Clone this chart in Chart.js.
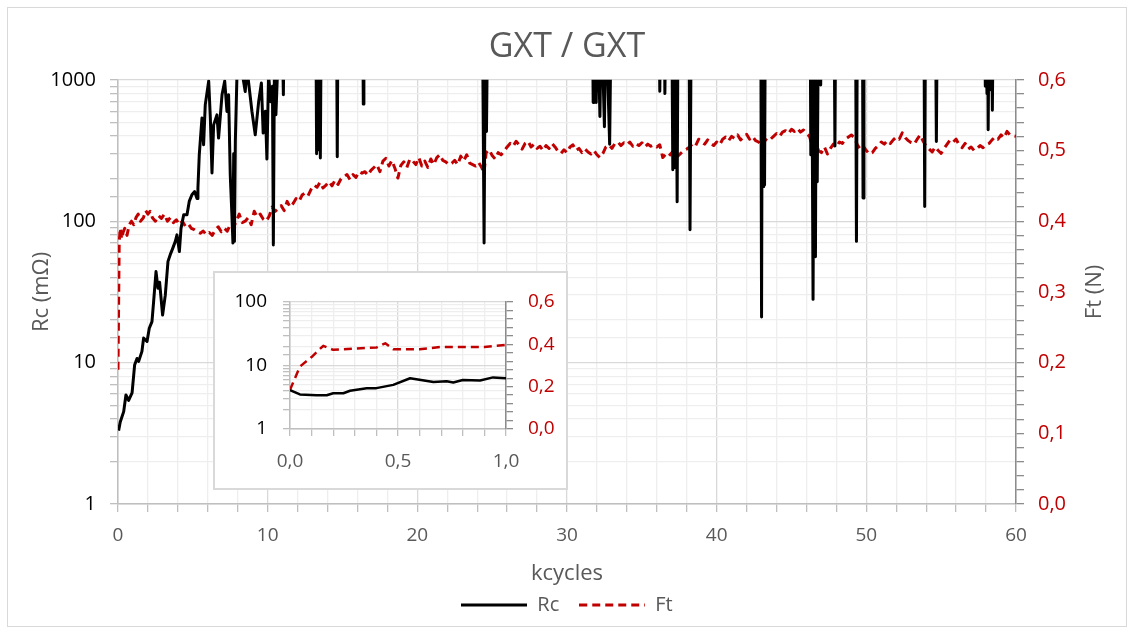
<!DOCTYPE html>
<html>
<head>
<meta charset="utf-8">
<script src="https://cdn.jsdelivr.net/npm/chart.js@4.4.1/dist/chart.umd.min.js"></script>
<style>
  body { margin: 0; background: #fff; }
  #wrap { position: relative; width: 1134px; height: 633px; }
  #frame { position: absolute; left: 7px; top: 7px; width: 1118px; height: 618px; border: 1px solid #d9d9d9; }
  #main { position: absolute; left: 0; top: 0; }
  #insetBox { position: absolute; left: 213px; top: 271px; width: 351px; height: 215px; border: 2px solid #d9d9d9; background: #fff; }
</style>
</head>
<body>
<div id="wrap">
  <div id="frame"></div>
  <canvas id="main" width="1134" height="633"></canvas>
  <div id="insetBox"><canvas id="inset" width="351" height="215"></canvas></div>
</div>
<script>
// Rc (mOhm) vs kcycles - values above 1000 run off the top of the plot
const rcK = [0.04,0.15,0.38,0.53,0.71,0.94,1.11,1.27,1.38,1.6,1.71,1.94,2.09,2.27,2.38,2.54,2.67,2.78,2.98,3.16,3.34,3.49,3.65,3.83,3.94,4.1,4.21,4.39,4.61,4.76,4.94,5.12,5.28,5.34,5.43,5.61,5.72,5.83,6.06,6.17,6.28,6.39,6.61,6.72,6.95,7.13,7.28,7.39,7.5,7.61,7.68,7.73,7.78,7.84,7.95,8.2,8.5,8.62,8.95,9.17,9.4,9.58,9.7,9.85,9.95,10.06,10.2,10.32,10.38,10.45,10.55,10.7,11.0,11.05,11.1,13.22,13.27,13.32,13.4,13.46,13.52,13.58,14.6,14.65,14.7,16.35,16.39,16.43,24.35,24.46,24.55,24.62,24.7,31.7,31.75,31.8,31.95,32.05,32.2,32.3,32.5,32.6,32.85,32.95,36.15,36.2,36.25,36.5,36.54,36.6,37.0,37.07,37.14,37.2,37.28,37.36,37.42,38.15,38.22,38.3,42.95,43.0,43.05,43.1,43.15,43.2,43.25,46.25,46.29,46.35,46.44,46.52,46.6,46.66,46.72,46.8,46.95,47.0,47.85,47.9,47.95,49.28,49.34,49.4,49.74,49.78,49.84,53.85,53.9,53.95,54.62,54.68,54.74,57.9,57.95,58.0,58.06,58.1,58.14,58.2,58.3,58.36,58.42,58.48,60];
const rcVal = [3.3,3.8,4.5,5.9,5.4,6.1,9.6,10.7,10.2,12,14.9,14.1,17.5,19.5,27,44,33.6,37,21.7,30,52,58,64,72,80,61,89,111,111,138,154,162,145,171,295,536,347,665,980,536,219,480,565,387,783,980,597,783,213,111,70,300,72,366,1100,1300,826,1200,597,408,703,950,420,600,275,1100,700,900,68,1200,566,1500,1500,785,3000,3000,300,3000,320,3000,280,3000,3000,286,3000,3000,673,3000,3000,70,3000,431,3000,3000,690,3000,690,3000,550,3000,465,3000,350,3000,3000,830,3000,3000,800,3000,3000,231,3000,240,3000,137,3000,3000,87,3000,3000,21,3000,176,3000,180,3000,3000,295,3000,28,3000,56,3000,190,3000,920,3000,3000,340,3000,3000,72,3000,3000,146,3000,3000,127,3000,3000,366,3000,3000,900,3000,800,3000,444,3000,850,3000,610,3000,3000];

// Ft (N) vs kcycles
const ftK = [0,0.08,0.15,0.25,0.35,0.45,0.6,0.75,0.9,1.05,1.2,1.35,1.5,1.7,1.85,2.0,2.15,2.3,2.5,2.7,2.9,3.1,3.3,3.5,3.7,3.9,4.1,4.3,4.5,4.7,4.9,5.1,5.3,5.5,5.7,5.9,6.1,6.3,6.5,6.7,6.9,7.1,7.3,7.5,7.7,7.9,8.1,8.3,8.5,8.7,8.9,9.1,9.3,9.5,9.7,9.9,10.1,10.3,10.5,10.7,10.9,11.1,11.3,11.5,11.7,11.9,12.1,12.3,12.5,12.7,12.9,13.1,13.3,13.5,13.7,13.9,14.1,14.3,14.5,14.7,14.9,15.1,15.3,15.5,15.7,15.9,16.1,16.3,16.5,16.7,16.9,17.1,17.3,17.5,17.7,17.9,18.1,18.3,18.5,18.7,18.9,19.1,19.3,19.5,19.7,19.9,20.1,20.3,20.5,20.7,20.9,21.1,21.3,21.5,21.7,21.9,22.1,22.3,22.5,22.7,22.9,23.1,23.3,23.5,23.7,23.9,24.1,24.3,24.45,24.6,24.8,25.0,25.2,25.4,25.6,25.8,26.0,26.2,26.4,26.6,26.8,27.0,27.2,27.4,27.6,27.8,28.0,28.2,28.4,28.6,28.8,29.0,29.2,29.4,29.6,29.8,30.0,30.2,30.4,30.6,30.8,31.0,31.2,31.4,31.6,31.8,32.0,32.2,32.4,32.6,32.8,33.0,33.2,33.4,33.6,33.8,34.0,34.2,34.4,34.6,34.8,35.0,35.2,35.4,35.6,35.8,36.0,36.2,36.4,36.6,36.8,37.0,37.2,37.4,37.6,37.8,38.0,38.2,38.4,38.6,38.8,39.0,39.2,39.4,39.6,39.8,40.0,40.2,40.4,40.6,40.8,41.0,41.2,41.4,41.6,41.8,42.0,42.2,42.4,42.6,42.8,43.0,43.2,43.4,43.6,43.8,44.0,44.2,44.4,44.6,44.8,45.0,45.2,45.4,45.6,45.8,46.0,46.2,46.4,46.6,46.8,47.0,47.2,47.4,47.6,47.8,48.0,48.2,48.4,48.6,48.8,49.0,49.2,49.4,49.6,49.8,50.0,50.2,50.4,50.6,50.8,51.0,51.2,51.4,51.6,51.8,52.0,52.2,52.4,52.6,52.8,53.0,53.2,53.4,53.6,53.8,54.0,54.2,54.4,54.6,54.8,55.0,55.2,55.4,55.6,55.8,56.0,56.2,56.4,56.6,56.8,57.0,57.2,57.4,57.6,57.8,58.0,58.2,58.4,58.6,58.8,59.0,59.2,59.4,59.6,59.8,60.0];
const ftVal = [0.19,0.37,0.39,0.375,0.385,0.39,0.38,0.395,0.40,0.395,0.405,0.41,0.40,0.405,0.415,0.41,0.414,0.405,0.40,0.408,0.404,0.41,0.40,0.405,0.398,0.402,0.395,0.40,0.393,0.396,0.39,0.388,0.385,0.383,0.386,0.381,0.384,0.38,0.388,0.392,0.385,0.39,0.386,0.395,0.39,0.40,0.41,0.398,0.40,0.405,0.395,0.414,0.406,0.41,0.403,0.40,0.407,0.42,0.414,0.418,0.422,0.415,0.428,0.42,0.425,0.432,0.428,0.437,0.44,0.436,0.445,0.451,0.448,0.455,0.447,0.451,0.456,0.45,0.458,0.452,0.46,0.463,0.466,0.459,0.466,0.462,0.47,0.468,0.47,0.465,0.472,0.476,0.48,0.47,0.485,0.489,0.478,0.486,0.475,0.461,0.479,0.484,0.476,0.488,0.485,0.48,0.49,0.478,0.485,0.476,0.488,0.48,0.49,0.494,0.486,0.484,0.48,0.482,0.486,0.48,0.492,0.485,0.494,0.482,0.48,0.478,0.483,0.476,0.468,0.497,0.501,0.493,0.488,0.497,0.494,0.499,0.505,0.51,0.506,0.513,0.508,0.502,0.51,0.513,0.505,0.509,0.503,0.506,0.5,0.507,0.503,0.51,0.505,0.499,0.496,0.501,0.497,0.505,0.508,0.5,0.503,0.497,0.502,0.498,0.495,0.5,0.494,0.49,0.496,0.505,0.508,0.503,0.51,0.512,0.507,0.511,0.508,0.512,0.506,0.51,0.507,0.511,0.505,0.509,0.506,0.508,0.505,0.508,0.49,0.495,0.492,0.497,0.488,0.492,0.496,0.5,0.502,0.505,0.51,0.507,0.516,0.512,0.509,0.515,0.51,0.507,0.512,0.508,0.516,0.519,0.514,0.52,0.517,0.522,0.515,0.519,0.523,0.516,0.52,0.514,0.512,0.506,0.513,0.518,0.516,0.52,0.524,0.52,0.526,0.528,0.524,0.53,0.527,0.531,0.526,0.529,0.524,0.52,0.506,0.513,0.5,0.497,0.505,0.495,0.503,0.509,0.505,0.512,0.51,0.516,0.519,0.522,0.518,0.508,0.502,0.506,0.5,0.495,0.497,0.503,0.507,0.512,0.509,0.514,0.51,0.515,0.519,0.516,0.525,0.518,0.514,0.511,0.509,0.516,0.522,0.513,0.506,0.502,0.498,0.505,0.5,0.496,0.503,0.509,0.515,0.512,0.516,0.508,0.504,0.51,0.502,0.505,0.5,0.503,0.507,0.504,0.508,0.51,0.515,0.519,0.516,0.522,0.518,0.527,0.522,0.521,0.52];

// inset: first 1 kcycle
const insetRcK = [0,0.046,0.123,0.17,0.2,0.247,0.278,0.355,0.4,0.478,0.556,0.664,0.725,0.756,0.8,0.88,0.94,1.0];
const insetRcVal = [4.1,3.5,3.4,3.4,3.66,3.66,4.0,4.4,4.4,4.95,6.3,5.5,5.65,5.4,5.9,5.8,6.5,6.3];
const insetFtK = [0,0.046,0.1,0.154,0.2,0.3,0.4,0.441,0.478,0.6,0.694,0.9,1.0];
const insetFtVal = [0.185,0.295,0.34,0.393,0.374,0.38,0.385,0.405,0.377,0.377,0.387,0.387,0.398];

const FONT = 'Open Sans';
const GREY = '#595959';
const RED = '#C00000';

const pts = (xs, ys) => xs.map((x, i) => ({ x, y: ys[i] }));
const isDecade = v => { const l = Math.log10(v); return Math.abs(l - Math.round(l)) < 1e-9; };
const onStep = (v, step) => Math.abs(v / step - Math.round(v / step)) < 1e-6;
const comma = v => v.toFixed(1).replace('.', ',');

// little line sample used as the legend symbol, so the dash shows
const swatch = (color, dash) => {
  const c = document.createElement('canvas');
  c.width = 66; c.height = 6;
  const g = c.getContext('2d');
  g.strokeStyle = color; g.lineWidth = 3; g.setLineDash(dash);
  g.beginPath(); g.moveTo(0, 3); g.lineTo(66, 3); g.stroke();
  return c;
};

const lineSet = (label, data, axis, color, dash, width) => ({
  label, data, yAxisID: axis,
  borderColor: color, backgroundColor: color,
  borderWidth: width, borderDash: dash,
  borderJoinStyle: 'round',
  pointRadius: 0, pointStyle: swatch(color, dash), tension: 0
});

// right axis title reads bottom-to-top like the left one
const rightTitle = {
  id: 'rightTitle',
  afterDraw(chart) {
    const { ctx, chartArea } = chart;
    ctx.save();
    ctx.translate(1095, (chartArea.top + chartArea.bottom) / 2);
    ctx.rotate(-Math.PI / 2);
    ctx.font = '22px "Open Sans"';
    ctx.fillStyle = GREY;
    ctx.textAlign = 'center';
    ctx.textBaseline = 'middle';
    ctx.fillText('Ft (N)', 0, 0);
    ctx.restore();
  }
};

new Chart(document.getElementById('main'), {
  type: 'line',
  data: {
    datasets: [
      lineSet('Rc', pts(rcK, rcVal), 'y', '#000000', [], 3),
      lineSet('Ft', pts(ftK, ftVal), 'y2', RED, [8, 5], 3)
    ]
  },
  options: {
    responsive: false,
    animation: false,
    layout: { padding: { left: 12, right: 12, top: 0, bottom: 8 } },
    plugins: {
      title: {
        display: true, text: 'GXT / GXT', color: GREY,
        font: { family: FONT, size: 34, weight: 'normal' },
        padding: { top: 27, bottom: 12 }
      },
      legend: {
        position: 'bottom',
        labels: { usePointStyle: true, pointStyleWidth: 66, color: GREY, font: { family: FONT, size: 20 }, padding: 20 }
      },
      tooltip: { enabled: false }
    },
    scales: {
      x: {
        type: 'linear', min: 0, max: 60,
        ticks: { stepSize: 2, autoSkip: false, maxRotation: 0, padding: 12, color: GREY,
          font: { family: FONT, size: 19 }, callback: v => (v % 10 === 0 ? String(v) : '') },
        grid: { color: c => (c.tick && c.tick.value % 10 === 0 ? '#d9d9d9' : '#eeeeee'), lineWidth: 1.3, tickLength: 8, tickColor: '#bfbfbf' },
        border: { color: '#bfbfbf', width: 1.5 },
        title: { display: true, text: 'kcycles', color: GREY, font: { family: FONT, size: 22 }, padding: { top: 0, bottom: -12 } },
        afterFit: s => { s.height = 71; }
      },
      y: {
        type: 'logarithmic', position: 'left', min: 1, max: 1000,
        ticks: { autoSkip: false, padding: 14, color: '#000', font: { family: FONT, size: 20 },
          callback: v => (isDecade(v) ? String(v) : '') },
        grid: { color: c => (c.tick && isDecade(c.tick.value) ? '#d9d9d9' : '#eeeeee'), lineWidth: 1.3, tickLength: 8, tickColor: '#bfbfbf' },
        border: { color: '#bfbfbf', width: 1.5 },
        title: { display: true, text: 'Rc (mΩ)', color: GREY, font: { family: FONT, size: 22 }, padding: { top: 17, bottom: 0 } },
        afterFit: s => { s.width = 106; }
      },
      y2: {
        type: 'linear', position: 'right', min: 0, max: 0.6,
        ticks: { stepSize: 0.02, autoSkip: false, padding: 14, color: RED, font: { family: FONT, size: 20 },
          callback: v => (onStep(v, 0.1) ? comma(v) : '') },
        grid: { drawOnChartArea: false, tickLength: 8, color: '#8c8c8c', lineWidth: 1.3 },
        border: { color: '#8c8c8c', width: 1.5 },
        afterFit: s => { s.width = 106; }
      }
    }
  },
  plugins: [rightTitle]
});

new Chart(document.getElementById('inset'), {
  type: 'line',
  data: {
    datasets: [
      lineSet('Rc', pts(insetRcK, insetRcVal), 'y', '#000000', [], 2.5),
      lineSet('Ft', pts(insetFtK, insetFtVal), 'y2', RED, [8, 5], 2.5)
    ]
  },
  options: {
    responsive: false,
    animation: false,
    layout: { padding: { left: 0, right: 0, top: 29, bottom: 0 } },
    plugins: { legend: { display: false }, tooltip: { enabled: false } },
    scales: {
      x: {
        type: 'linear', min: 0, max: 1,
        ticks: { stepSize: 0.1, autoSkip: false, maxRotation: 0, padding: 14, color: GREY,
          font: { family: FONT, size: 19 }, callback: v => (onStep(v, 0.5) ? comma(v) : '') },
        grid: { color: c => (c.tick && onStep(c.tick.value, 0.5) ? '#d9d9d9' : '#eeeeee'), lineWidth: 1.3, tickLength: 7, tickColor: '#bfbfbf' },
        border: { color: '#bfbfbf', width: 1.5 },
        afterFit: s => { s.height = 59; }
      },
      y: {
        type: 'logarithmic', position: 'left', min: 1, max: 100,
        ticks: { autoSkip: false, padding: 16, color: '#000', font: { family: FONT, size: 19 },
          callback: v => (isDecade(v) ? String(v) : '') },
        grid: { color: c => (c.tick && isDecade(c.tick.value) ? '#d9d9d9' : '#eeeeee'), lineWidth: 1.3, tickLength: 7, tickColor: '#bfbfbf' },
        border: { color: '#bfbfbf', width: 1.5 },
        afterFit: s => { s.width = 75; }
      },
      y2: {
        type: 'linear', position: 'right', min: 0, max: 0.6,
        ticks: { stepSize: 0.04, autoSkip: false, padding: 15, color: RED, font: { family: FONT, size: 19 },
          callback: v => (onStep(v, 0.2) ? comma(v) : '') },
        grid: { drawOnChartArea: false, tickLength: 7, color: '#8c8c8c', lineWidth: 1.3 },
        border: { color: '#8c8c8c', width: 1.5 },
        afterFit: s => { s.width = 60; }
      }
    }
  }
});
</script>
</body>
</html>
